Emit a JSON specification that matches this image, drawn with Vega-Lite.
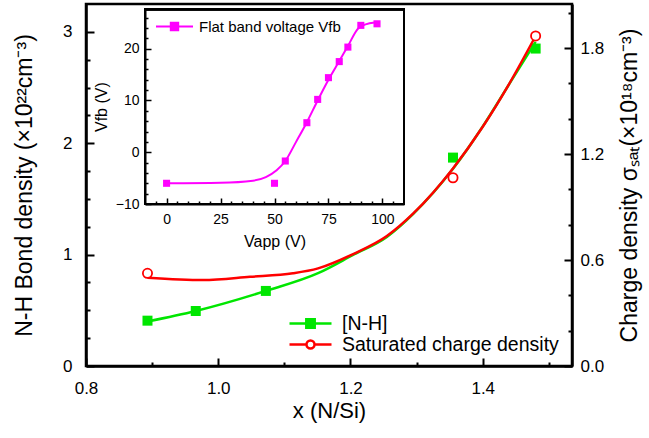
{
  "$schema": "https://vega.github.io/schema/vega-lite/v6.json",
  "width": 486,
  "height": 362,
  "autosize": "none",
  "padding": {"left": 86, "top": 4, "right": 77, "bottom": 72},
  "background": "white",
  "config": {
    "view": {"stroke": "black", "strokeWidth": 2.5},
    "font": "Liberation Sans",
    "axis": {"grid": false, "domainColor": "black", "tickColor": "black", "labelColor": "black", "titleColor": "black", "labelFont": "Liberation Sans", "titleFont": "Liberation Sans", "titleFontWeight": "normal", "labelFlush": false, "labelOverlap": false}
  },
  "datasets": {
    "nh": [{"x":0.893,"v":0.407},{"x":0.966,"v":0.494},{"x":1.072,"v":0.674},{"x":1.355,"v":1.871},{"x":1.48,"v":2.85}],
    "nhfit": [{"x":0.893,"v":0.40},{"x":0.966,"v":0.494},{"x":1.072,"v":0.674},{"x":1.151,"v":0.833},{"x":1.204,"v":0.997},{"x":1.255,"v":1.159},{"x":1.295,"v":1.366},{"x":1.355,"v":1.77},{"x":1.40,"v":2.15},{"x":1.44,"v":2.53},{"x":1.48,"v":2.91}],
    "sat": [{"x":0.893,"v":0.525},{"x":1.355,"v":1.066},{"x":1.48,"v":1.869}],
    "satfit": [{"x":0.893,"v":0.50},{"x":0.977,"v":0.487},{"x":1.048,"v":0.505},{"x":1.113,"v":0.525},{"x":1.151,"v":0.553},{"x":1.204,"v":0.634},{"x":1.255,"v":0.736},{"x":1.295,"v":0.864},{"x":1.355,"v":1.119},{"x":1.40,"v":1.355},{"x":1.44,"v":1.598},{"x":1.48,"v":1.869}],
    "vfb": [{"va":0,"vf":-6.0},{"va":50,"vf":-6.0},{"va":55,"vf":-1.7},{"va":65,"vf":5.7},{"va":70,"vf":10.2},{"va":75,"vf":14.4},{"va":80,"vf":17.5},{"va":84,"vf":20.3},{"va":90,"vf":24.5},{"va":97.5,"vf":24.8}],
    "vfbfit": [{"va":0,"vf":-6.0},{"va":25,"vf":-5.9},{"va":40,"vf":-5.5},{"va":46,"vf":-4.8},{"va":51,"vf":-3.5},{"va":55,"vf":-1.7},{"va":60,"vf":2.0},{"va":65,"vf":5.8},{"va":70,"vf":10.0},{"va":75,"vf":14.0},{"va":80,"vf":17.6},{"va":84,"vf":20.5},{"va":89,"vf":24.0},{"va":94,"vf":24.9},{"va":98,"vf":25.1}],
    "leg1": [{"series":"[N-H]"},{"series":"Saturated charge density"}],
    "leg2": [{"name":"Flat band voltage Vfb"}]
  },
  "layer": [
    {
      "layer": [
        {
          "encoding": {
            "x": {"field": "x", "type": "quantitative", "scale": {"domain": [0.8, 1.535], "nice": false, "zero": false},
              "axis": {"orient": "bottom", "values": [0.8,0.85,0.9,0.95,1.0,1.05,1.1,1.15,1.2,1.25,1.3,1.35,1.4,1.45,1.5],
                "labelExpr": "abs(datum.value*5-round(datum.value*5))<0.001 ? format(datum.value,'.1f') : ''",
                "tickSize": {"condition": {"test": "abs(datum.value*5-round(datum.value*5))<0.001", "value": -8}, "value": -4},
                "tickWidth": 2, "domainWidth": 2.5, "labelFontSize": 17, "labelPadding": 22,
                "title": "x (N/Si)", "titleFontSize": 22, "titlePadding": 0}},
            "y": {"field": "v", "type": "quantitative", "scale": {"domain": [0, 3.25], "nice": false, "zero": false},
              "axis": {"orient": "left", "values": [0,0.25,0.5,0.75,1,1.25,1.5,1.75,2,2.25,2.5,2.75,3],
                "labelExpr": "datum.value % 1 == 0 ? format(datum.value,'d') : ''",
                "tickSize": {"condition": {"test": "datum.value % 1 == 0", "value": -8}, "value": -4},
                "tickWidth": 2, "domainWidth": 2.5, "labelFontSize": 17, "labelPadding": 22,
                "title": "N-H Bond density (×10²²cm⁻³)", "titleFontSize": 23, "titlePadding": 26}}
          },
          "layer": [
            {"data": {"name": "nhfit"}, "mark": {"type": "line", "color": "#00e600", "strokeWidth": 2.5, "interpolate": "monotone"}},
            {"data": {"name": "nh"}, "mark": {"type": "point", "shape": "square", "filled": true, "color": "#00e600", "size": 100, "opacity": 1}}
          ]
        },
        {
          "encoding": {
            "x": {"field": "x", "type": "quantitative"},
            "y": {"field": "v", "type": "quantitative", "scale": {"domain": [0, 2.05], "nice": false, "zero": false},
              "axis": {"orient": "right", "values": [0,0.2,0.4,0.6,0.8,1.0,1.2,1.4,1.6,1.8,2.0],
                "labelExpr": "abs(datum.value/0.6-round(datum.value/0.6))<0.001 ? format(datum.value,'.1f') : ''",
                "tickSize": {"condition": {"test": "abs(datum.value/0.6-round(datum.value/0.6))<0.001", "value": -8}, "value": -4},
                "tickWidth": 2, "domainWidth": 2.5, "labelFontSize": 17, "labelPadding": 16,
                "title": "Charge density σₛₐₜ(×10¹⁸cm⁻³)", "titleFontSize": 23, "titleAngle": 270, "titlePadding": 38}}
          },
          "layer": [
            {"data": {"name": "satfit"}, "mark": {"type": "line", "color": "#ff0000", "strokeWidth": 2.5, "interpolate": "monotone"}},
            {"data": {"name": "sat"}, "mark": {"type": "point", "shape": "circle", "filled": false, "fill": "white", "color": "#ff0000", "size": 85, "strokeWidth": 1.8, "opacity": 1}}
          ]
        },
        {
          "data": {"name": "leg1"},
          "transform": [{"filter": "false"}],
          "mark": {"type": "point", "strokeWidth": 2.5, "opacity": 1},
          "encoding": {
            "shape": {"field": "series", "type": "nominal", "scale": {"domain": ["[N-H]", "Saturated charge density"], "range": ["M-2.1,0H2.1M-0.42,-0.42H0.42V0.42H-0.42Z", "M-2.1,0H-0.4M0.4,0H2.1M0.4,0A0.4,0.4,0,1,1,-0.4,0A0.4,0.4,0,1,1,0.4,0Z"]},
              "legend": {"title": null, "orient": "none", "legendX": 213, "legendY": 308, "symbolSize": 400, "symbolStrokeWidth": 2.5, "labelFontSize": 19.5, "labelFont": "Liberation Sans", "labelColor": "black", "labelOffset": 20, "labelLimit": 0, "rowPadding": 0, "padding": 0, "symbolOpacity": 1}},
            "fill": {"field": "series", "type": "nominal", "scale": {"domain": ["[N-H]", "Saturated charge density"], "range": ["#00e600", "#ffffff"]}},
            "stroke": {"field": "series", "type": "nominal", "scale": {"domain": ["[N-H]", "Saturated charge density"], "range": ["#00e600", "#ff0000"]}}
          }
        }
      ],
      "resolve": {"scale": {"y": "independent"}}
    },
    {
      "encoding": {
        "x": {"field": "va", "type": "quantitative", "scale": {"domain": [-10, 110], "range": [59, 318], "nice": false, "zero": false},
          "axis": {"orient": "bottom", "offset": -162, "values": [-5,0,5,10,15,20,25,30,35,40,45,50,55,60,65,70,75,80,85,90,95,100,105],
            "labelExpr": "datum.value % 25 == 0 ? format(datum.value,'d') : ''",
            "tickSize": {"condition": {"test": "datum.value % 25 == 0", "value": -6}, "value": -3},
            "tickWidth": 1.5, "domainWidth": 2, "labelFontSize": 14, "labelPadding": 14,
            "title": "Vapp (V)", "titleFontSize": 16, "titlePadding": 4}},
        "y": {"field": "vf", "type": "quantitative", "scale": {"domain": [-10, 27.6], "range": [200, 5.3], "nice": false, "zero": false},
          "axis": {"orient": "left", "offset": -59, "values": [-10,-8,-6,-4,-2,0,2,4,6,8,10,12,14,16,18,20,22,24,26],
            "labelExpr": "datum.value % 10 == 0 ? format(datum.value,'d') : ''",
            "tickSize": {"condition": {"test": "datum.value % 10 == 0", "value": -6}, "value": -3},
            "tickWidth": 1.5, "domainWidth": 2, "labelFontSize": 14, "labelPadding": 12,
            "title": "Vfb (V)", "titleFontSize": 16, "titlePadding": 6}}
      },
      "layer": [
        {"data": {"name": "vfb"}, "mark": {"type": "rect", "fill": null, "fillOpacity": 0, "stroke": "black", "strokeWidth": 2},
          "encoding": {"x": {"datum": -10}, "x2": {"datum": 110}, "y": {"datum": -10}, "y2": {"datum": 27.6}}},
        {"data": {"name": "vfbfit"}, "mark": {"type": "line", "color": "#ff00ff", "strokeWidth": 2, "interpolate": "monotone"}},
        {"data": {"name": "vfb"}, "mark": {"type": "point", "shape": "square", "filled": true, "color": "#ff00ff", "size": 50, "opacity": 1}},
        {
          "data": {"name": "leg2"},
          "transform": [{"filter": "false"}],
          "mark": {"type": "point", "strokeWidth": 2, "opacity": 1},
          "encoding": {
            "x": {"datum": 0}, "y": {"datum": 0},
            "shape": {"field": "name", "type": "nominal", "scale": {"domain": ["Flat band voltage Vfb"], "range": ["M-1,0H1M-0.2,-0.2H0.2V0.2H-0.2Z"]},
              "legend": {"title": null, "orient": "none", "legendX": 69, "legendY": 3, "symbolSize": 1369, "symbolStrokeWidth": 2, "labelFontSize": 15, "labelFont": "Liberation Sans", "labelColor": "black", "labelOffset": 5, "labelLimit": 0, "padding": 0, "symbolOpacity": 1}},
            "fill": {"field": "name", "type": "nominal", "scale": {"domain": ["Flat band voltage Vfb"], "range": ["#ff00ff"]}},
            "stroke": {"field": "name", "type": "nominal", "scale": {"domain": ["Flat band voltage Vfb"], "range": ["#ff00ff"]}}
          }
        }
      ]
    }
  ],
  "resolve": {"scale": {"x": "independent", "y": "independent", "shape": "independent", "fill": "independent", "stroke": "independent"}}
}
